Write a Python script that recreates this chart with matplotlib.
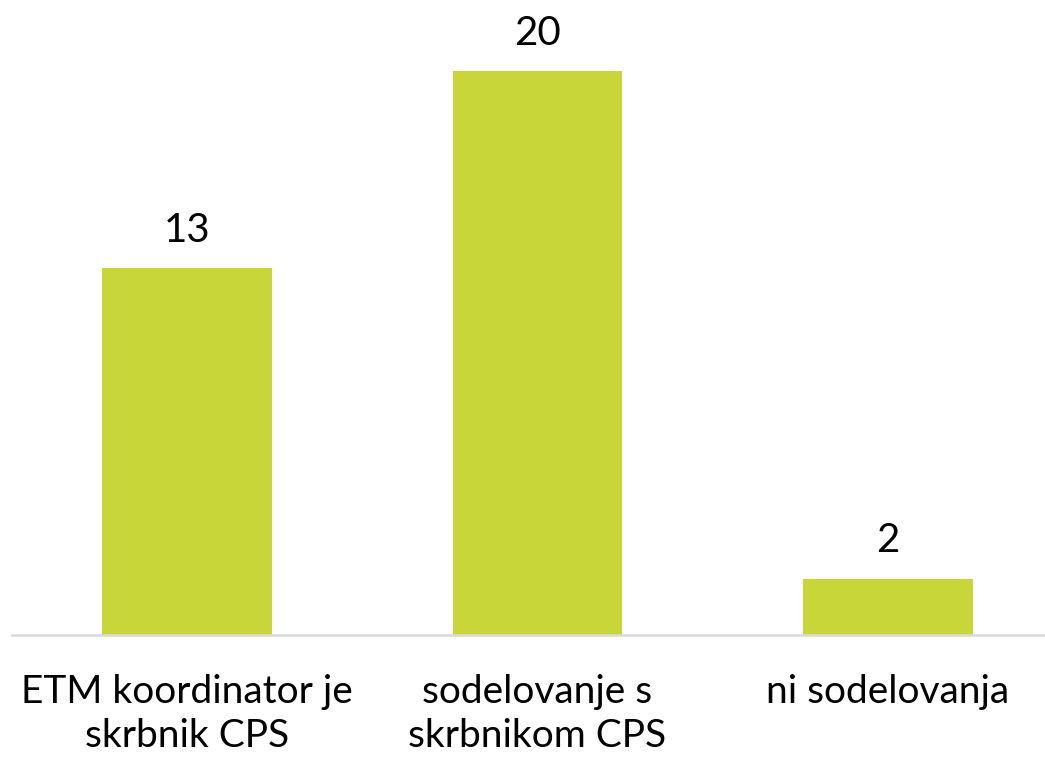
import matplotlib
matplotlib.use("Agg")
import matplotlib.pyplot as plt

categories = ["ETM koordinator je\nskrbnik CPS", "sodelovanje s\nskrbnikom CPS", "ni sodelovanja"]
values = [13, 20, 2]

plt.rcParams['font.family'] = ['Lato', 'DejaVu Sans']

fig = plt.figure(figsize=(10.45, 7.6), dpi=100)
ax = fig.add_axes([12/1045, 1 - 635/760, 1051/1045, 564/760])
x = list(range(len(categories)))
bars = ax.bar(x, values, width=0.485, color="#C9D63A", zorder=2)
ax.set_xlim(-0.5, 2.5)
ax.set_ylim(0, 20)
for b, v in zip(bars, values):
    ax.annotate(str(v), (b.get_x() + b.get_width()/2, v), xytext=(0, 14),
                textcoords="offset points", ha="center", va="bottom",
                fontsize=29, color="black", annotation_clip=False)
ax.set_xticks(x)
ax.set_xticklabels(categories, fontsize=28, linespacing=1.27)
ax.tick_params(axis='x', length=0, pad=28)
ax.set_yticks([])
for s in ['top', 'right', 'left']:
    ax.spines[s].set_visible(False)
ax.spines['bottom'].set_color('#D9D9D9')
ax.spines['bottom'].set_linewidth(1.8)
fig.savefig("out.png", dpi=100)
